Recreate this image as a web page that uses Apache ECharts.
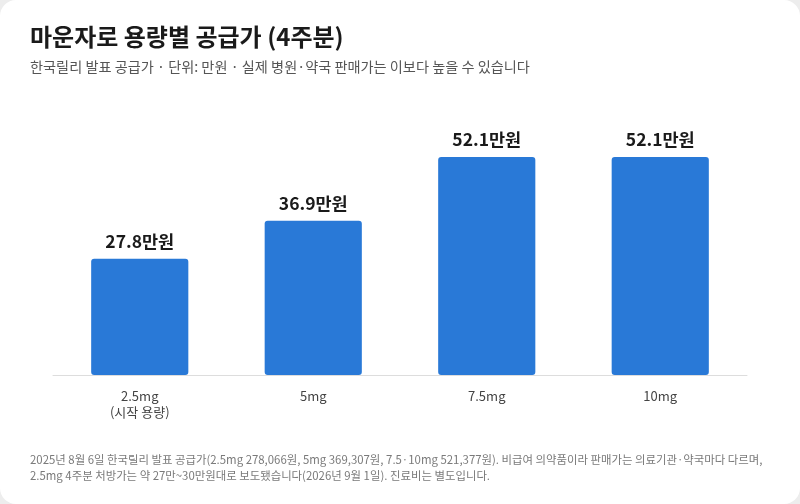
<!DOCTYPE html>
<html>
<head>
<meta charset="utf-8">
<script src="https://cdn.jsdelivr.net/npm/echarts@6/dist/echarts.min.js"></script>
<style>
  html, body { margin: 0; padding: 0; background: #ededed; }
  #chart { width: 800px; height: 504px; background: #fff; border-radius: 16px; overflow: hidden; }
</style>
</head>
<body>
<div id="chart"></div>
<script>
// 용량별 카테고리와 공급가 (만원)
const doses = ['2.5mg\n(시작 용량)', '5mg', '7.5mg', '10mg'];
const prices = [27.8, 36.9, 52.1, 52.1];

const titleText = '마운자로 용량별 공급가 (4주분)';
const subText = '한국릴리 발표 공급가 · 단위: 만원 · 실제 병원·약국 판매가는 이보다 높을 수 있습니다';
const noteLines = [
  '2025년 8월 6일 한국릴리 발표 공급가(2.5mg 278,066원, 5mg 369,307원, 7.5·10mg 521,377원). 비급여 의약품이라 판매가는 의료기관·약국마다 다르며,',
  '2.5mg 4주분 처방가는 약 27만~30만원대로 보도됐습니다(2026년 9월 1일). 진료비는 별도입니다.'
];

const font = '"Noto Sans CJK KR", "Noto Sans", sans-serif';
const chart = echarts.init(document.getElementById('chart'));

chart.setOption({
  animation: false,
  textStyle: { fontFamily: font },
  title: [
    {
      text: titleText,
      left: 30, top: 25, padding: 0,
      textStyle: { fontSize: 24, fontWeight: 'bold', color: '#1a1a1a', fontFamily: font }
    },
    {
      text: subText,
      left: 30, top: 60, padding: 0,
      textStyle: { fontSize: 14.2, fontWeight: 'normal', color: '#555', fontFamily: font }
    },
    {
      text: noteLines.join('\n'),
      left: 30, top: 452, padding: 0,
      textStyle: { fontSize: 11.4, fontWeight: 'normal', color: '#7a7a7a', lineHeight: 16, fontFamily: font }
    }
  ],
  grid: { left: 53, right: 53, top: 124, bottom: 129 },
  xAxis: {
    type: 'category',
    data: doses,
    axisLine: { lineStyle: { color: '#dddddd', width: 1 } },
    axisTick: { show: false },
    axisLabel: { color: '#444', fontSize: 13, margin: 13, lineHeight: 16, fontFamily: font }
  },
  yAxis: {
    type: 'value',
    min: 0, max: 60,
    show: false
  },
  series: [{
    type: 'bar',
    data: prices,
    barWidth: '56%',
    itemStyle: { color: '#2979d7', borderRadius: 3 },
    label: {
      show: true,
      position: 'top',
      distance: 9,
      formatter: p => p.value + '만원',
      fontSize: 17.5,
      fontWeight: 'bold',
      color: '#1a1a1a',
      fontFamily: font
    }
  }]
});
</script>
</body>
</html>
